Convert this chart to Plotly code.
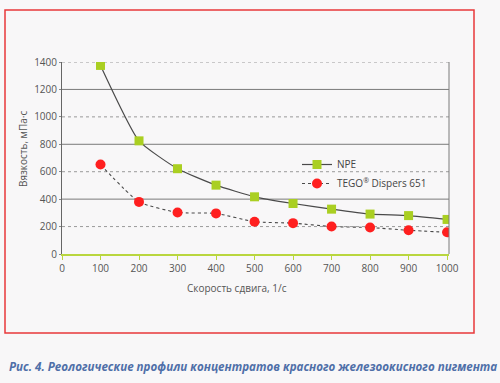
import plotly.graph_objects as go

shear_rate = [100, 200, 300, 400, 500, 600, 700, 800, 900, 1000]
npe = [1375, 825, 622, 502, 417, 368, 327, 291, 280, 252]
tego = [652, 380, 303, 296, 235, 225, 200, 193, 173, 158]
x_ticks = [0, 100, 200, 300, 400, 500, 600, 700, 800, 900, 1000]
y_ticks = [0, 200, 400, 600, 800, 1000, 1200, 1400]

BG = "#f8f7f8"
W, H = 500, 383
L, R, T, B = 62, 449, 62, 254  # plot area pixels

def px(x):
    return (x - L) / (R - L)

def py(y):
    return (B - y) / (B - T)

fig = go.Figure()
fig.add_trace(go.Scatter(
    x=shear_rate, y=npe, name="NPE", mode="lines+markers",
    line=dict(color="#4a4a4a", width=1.2, shape="spline", smoothing=0.5),
    marker=dict(symbol="square", size=9, color="#aacf22"),
))
fig.add_trace(go.Scatter(
    x=shear_rate, y=tego, name="TEGO<sup>®</sup> Dispers 651", mode="lines+markers",
    line=dict(color="#4a4a4a", width=1.1, dash="dot", shape="spline", smoothing=0.5),
    marker=dict(symbol="circle", size=10, color="#ff1f1f"),
))

shapes = []
for v in y_ticks[1:]:
    solid = (v % 400 == 0)
    shapes.append(dict(type="line", xref="paper", yref="y", x0=0, x1=1, y0=v, y1=v,
                       line=dict(color="#7a7a7a" if solid else "#9a9a9a",
                                 width=1, dash="solid" if solid else "dot"),
                       layer="below"))
# right border of plot
shapes.append(dict(type="line", xref="paper", yref="paper", x0=1, x1=1, y0=0, y1=1,
                   line=dict(color="#7a7a7a", width=1)))
# red frame
shapes.append(dict(type="rect", xref="paper", yref="paper",
                   x0=px(5), x1=px(474), y0=py(333), y1=py(10),
                   line=dict(color="#e8393a", width=1.5)))

fig.update_layout(
    width=W, height=H, autosize=False,
    margin=dict(l=L, r=W - R, t=T, b=H - B),
    paper_bgcolor=BG, plot_bgcolor=BG,
    font=dict(family="Open Sans", size=10, color="#555555"),
    showlegend=True,
    legend=dict(x=px(297), y=py(150), xanchor="left", yanchor="top",
                bgcolor="rgba(0,0,0,0)", itemwidth=30, tracegroupgap=0,
                font=dict(size=10, color="#444444")),
    shapes=shapes,
    xaxis=dict(range=[0, 1005], tickvals=x_ticks, ticktext=[str(t) for t in x_ticks],
               showgrid=False, zeroline=False, showline=True, linecolor="#b9d63f",
               linewidth=1.5, ticks="outside", tickcolor="#b9d63f", ticklen=4,
               tickfont=dict(size=10, color="#555555")),
    yaxis=dict(range=[0, 1400], tickvals=y_ticks, ticktext=[str(t) for t in y_ticks],
               showgrid=False, zeroline=False, showline=True, linecolor="#666666",
               linewidth=1, ticks="outside", tickcolor="#888888", ticklen=2,
               tickfont=dict(size=10, color="#555555")),
    annotations=[
        dict(text="Скорость сдвига, 1/с", xref="paper", yref="paper",
             x=px(237), y=py(288), showarrow=False, xanchor="center", yanchor="middle",
             font=dict(size=10, color="#555555")),
        dict(text="Вязкость, мПа·с", xref="paper", yref="paper", textangle=-90,
             x=px(23), y=py(149), showarrow=False, xanchor="center", yanchor="middle",
             font=dict(size=10, color="#555555")),
        dict(text="<b><i>Рис. 4. Реологические профили концентратов красного железоокисного пигмента</i></b>",
             xref="paper", yref="paper", x=px(252.5), y=py(366), showarrow=False,
             xanchor="center", yanchor="middle",
             font=dict(family="Open Sans", size=11.6, color="#4f6fa8")),
    ],
)

fig.write_html("out.html", config={"displayModeBar": False},
               post_script="document.body.style.margin='0';")
